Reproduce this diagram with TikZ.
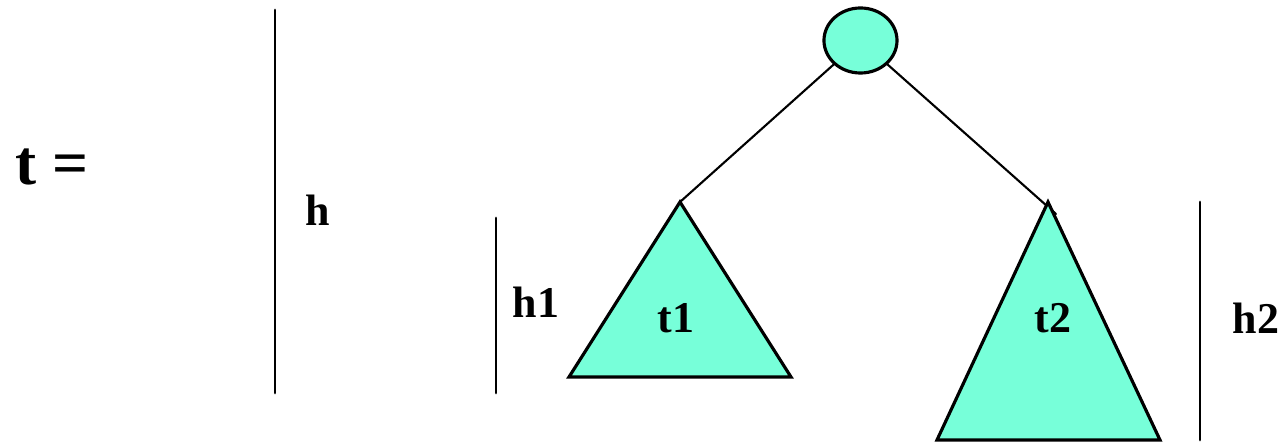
\documentclass[tikz,border=0pt]{standalone}
\usepackage{fontspec}
\setmainfont{Liberation Serif}
\usetikzlibrary{shapes.geometric}
\definecolor{subtree}{RGB}{119,255,217}
\begin{document}
\begin{tikzpicture}[x=.01cm,y=-.01cm,line cap=round,font=\bfseries\fontsize{12.5}{14}\selectfont,
    lbl/.style={inner sep=0pt},
    tri/.style={draw,fill=subtree,line width=.9pt,line join=miter}]
  \useasboundingbox (0,0) rectangle (1284,443);
  % root and the two subtrees hanging below it
  \node[draw,fill=subtree,line width=.9pt,ellipse,minimum width=.73cm,minimum height=.65cm,inner sep=0pt] (root) at (860.5,40.5) {};
  \coordinate (a1) at (680,202);
  \coordinate (a2) at (1048,202);
  \coordinate (e2) at (1056,214);
  \draw[line width=.6pt] (root) -- (a1);
  \draw[line width=.6pt] (root) -- (e2);
  \draw[tri] (a1) -- (569,377) -- (791,377) -- cycle;
  \draw[tri] (a2) -- (937,440) -- (1160,440) -- cycle;
  \node[lbl] (t1) at (676,318) {t1};
  \node[lbl] (t2) at (1053,318) {t2};
  % heights
  \coordinate (h0) at (275,10);   \coordinate (h0b) at (275,393);
  \coordinate (h1t) at (496,218); \coordinate (h1b) at (496,393);
  \coordinate (h2t) at (1200,202);\coordinate (h2b) at (1200,440);
  \draw[line width=.8pt] (h0) -- (h0b);
  \draw[line width=.8pt] (h1t) -- (h1b);
  \draw[line width=.8pt] (h2t) -- (h2b);
  \node[lbl] (h) at (318,210) {h};
  \node[lbl] (hl1) at (536,302) {h1};
  \node[lbl] (hl2) at (1256,318) {h2};
  \node[lbl,font=\bfseries\fontsize{18}{20}\selectfont] (teq) at (52,167) {t =};
\end{tikzpicture}
\end{document}
